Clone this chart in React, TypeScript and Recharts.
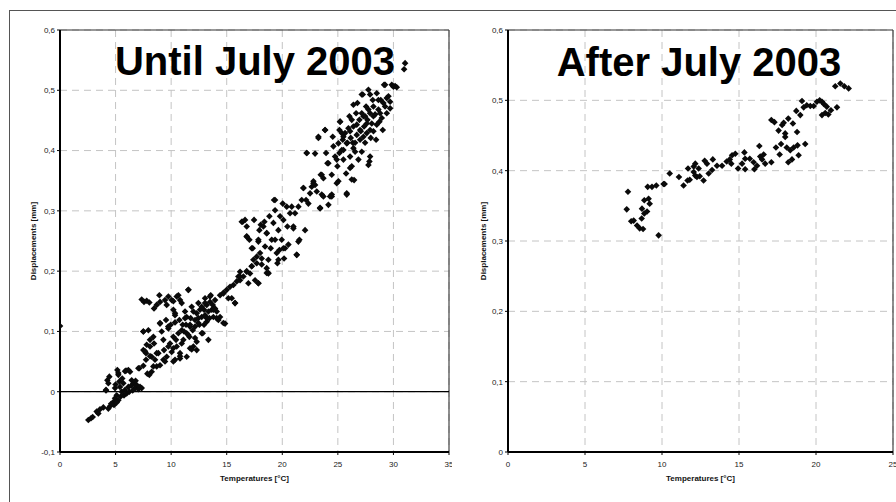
import React from 'react';
import { ScatterChart, Scatter, XAxis, YAxis, CartesianGrid, ReferenceLine } from 'recharts';

// ---- tick labels ----
const untilXTicks = [0, 5, 10, 15, 20, 25, 30, 35];
const untilYTicks = [-0.1, 0, 0.1, 0.2, 0.3, 0.4, 0.5, 0.6];
const afterXTicks = [0, 5, 10, 15, 20, 25];
const afterYTicks = [0, 0.1, 0.2, 0.3, 0.4, 0.5, 0.6];

// ---- Until July 2003: [temperature °C, displacement mm] ----
const untilLow: [number, number][] = [
  [0, 0.109],
  [2.55, -0.047], [2.79, -0.044], [2.94, -0.042], [3.3, -0.033], [3.45, -0.036], [3.6, -0.029],
  [3.9, -0.026], [4.35, -0.028], [4.5, -0.024], [4.14, 0.002], [4.26, 0.019], [4.44, 0.025],
  [4.35, 0.014], [4.8, -0.017], [4.95, -0.011], [5.1, -0.006], [5.16, 0.036], [5.25, 0.028],
  [4.95, 0.006], [5.4, 0.008], [5.55, 0], [5.34, 0.017], [5.7, 0.014], [5.85, 0.003],
  [5.46, -0.008], [5.76, -0.006], [6.0, -0.003], [5.94, 0.035], [6.3, 0.033], [6.45, 0.019],
  [6.15, 0.008], [6.6, 0.014], [6.75, 0.006], [6.9, 0.011], [7.05, 0.004], [7.2, 0.008],
  [7.35, 0.006], [6.54, 0.002], [6.24, 0.0], [5.25, -0.014], [4.86, -0.022],
  [5.25, 0.031], [5.85, 0.034], [6.15, 0.036], [4.14, 0.003], [5.0, 0.012], [5.6, 0.022],
  [6.4, 0.01], [6.8, 0.018], [5.1, -0.018], [4.6, -0.02],
];

const untilMid: [number, number][] = [
  [7.14, 0.039], [7.5, 0.043], [7.74, 0.053], [7.35, 0.153], [7.56, 0.149], [7.8, 0.151],
  [8.04, 0.148], [7.5, 0.1], [7.95, 0.102], [7.5, 0.069], [7.74, 0.064], [8.1, 0.075],
  [8.25, 0.058], [8.04, 0.028], [8.1, 0.086], [8.4, 0.091], [8.46, 0.138], [8.7, 0.144],
  [8.94, 0.16], [9.0, 0.149], [8.55, 0.053], [8.85, 0.064], [8.7, 0.042], [9.0, 0.113],
  [9.15, 0.1], [9.3, 0.086], [9.36, 0.069], [9.45, 0.152], [9.6, 0.144], [9.75, 0.158],
  [9.6, 0.058], [9.54, 0.119], [9.75, 0.105], [9.9, 0.08], [10.05, 0.066], [10.2, 0.091],
  [10.05, 0.152], [10.2, 0.136], [10.35, 0.115], [10.35, 0.127], [10.5, 0.075], [10.65, 0.097],
  [10.65, 0.16], [10.8, 0.152], [10.8, 0.064], [10.95, 0.102], [11.04, 0.111], [11.1, 0.086],
  [11.25, 0.133], [11.4, 0.097], [11.4, 0.058], [11.55, 0.169], [11.64, 0.091], [11.76, 0.122],
  [11.85, 0.141], [11.94, 0.102], [12.0, 0.075], [12.15, 0.119], [12.3, 0.083], [12.3, 0.13],
  [12.45, 0.147], [12.54, 0.111], [12.75, 0.124], [12.84, 0.097], [12.96, 0.136], [13.05, 0.155],
  [13.2, 0.116], [13.35, 0.133], [13.5, 0.149], [13.56, 0.16], [13.74, 0.144], [13.8, 0.124],
  [13.95, 0.152], [14.1, 0.133], [14.25, 0.119], [14.4, 0.124], [14.85, 0.113], [14.4, 0.16],
  [14.7, 0.163], [15.0, 0.169], [15.15, 0.155], [15.3, 0.174], [15.6, 0.177], [15.75, 0.147],
  [15.9, 0.183],
  [9.75, 0.075], [9.96, 0.111], [10.44, 0.086], [10.74, 0.119], [11.16, 0.1], [11.34, 0.111],
  [11.55, 0.094], [11.7, 0.111], [12.0, 0.133], [12.15, 0.108], [12.45, 0.122], [12.6, 0.136],
  [12.75, 0.141], [13.05, 0.127], [13.2, 0.144], [13.44, 0.122], [13.65, 0.136], [13.95, 0.138],
  [12.96, 0.111], [13.35, 0.086], [12.3, 0.069], [11.7, 0.072], [10.8, 0.055], [10.35, 0.053],
  [9.3, 0.053], [9.0, 0.044], [8.7, 0.064], [8.46, 0.08], [8.25, 0.033], [7.86, 0.03],
  [11.4, 0.124], [10.95, 0.08], [10.2, 0.072],
  [7.5, 0.1], [7.8, 0.078], [7.65, 0.067], [7.05, 0.039], [8.4, 0.042], [9.45, 0.05],
  [10.2, 0.05], [9.0, 0.114], [9.74, 0.108], [8.1, 0.059],
  [11.55, 0.169], [10.5, 0.158], [10.95, 0.147], [10.2, 0.15], [10.35, 0.13], [14.7, 0.114],
  [12.75, 0.097], [12.15, 0.089], [11.85, 0.07], [10.8, 0.059], [15.75, 0.147], [15.45, 0.155],
  [14.7, 0.164], [13.05, 0.147], [13.5, 0.158], [13.8, 0.136], [14.1, 0.122], [11.25, 0.122],
  [11.7, 0.108], [12.45, 0.114], [13.2, 0.122],
];

const untilUpperMid: [number, number][] = [
  [16.05, 0.191], [16.2, 0.199], [16.44, 0.282], [16.65, 0.285], [16.8, 0.257], [16.8, 0.274],
  [16.95, 0.18], [17.1, 0.196], [17.04, 0.252], [17.34, 0.238], [17.46, 0.285], [17.7, 0.224],
  [17.55, 0.185], [17.85, 0.18], [17.85, 0.252], [17.94, 0.268], [18.06, 0.277], [18.15, 0.221],
  [18.3, 0.274], [18.39, 0.282], [18.6, 0.263], [18.6, 0.205], [18.75, 0.196], [18.84, 0.291],
  [18.96, 0.238], [19.05, 0.252], [19.2, 0.28], [19.26, 0.318], [19.35, 0.301], [19.5, 0.23],
  [19.56, 0.213], [19.65, 0.268], [19.74, 0.235], [19.8, 0.291], [19.95, 0.252], [20.04, 0.312],
  [20.1, 0.285], [20.16, 0.221], [20.25, 0.238], [20.4, 0.307], [20.46, 0.274], [20.55, 0.244],
  [20.7, 0.296], [20.85, 0.307], [21.0, 0.274], [21.15, 0.296], [21.3, 0.227], [21.45, 0.307],
  [21.54, 0.252], [21.75, 0.318], [21.9, 0.338], [22.05, 0.268], [22.14, 0.318], [22.2, 0.396],
  [22.35, 0.312], [22.5, 0.329], [22.65, 0.34], [22.8, 0.349], [22.95, 0.395], [23.1, 0.332],
  [23.25, 0.423], [23.4, 0.304], [23.46, 0.36], [23.55, 0.327], [23.7, 0.354], [23.85, 0.434],
  [23.94, 0.396], [24.06, 0.379], [24.15, 0.31], [24.3, 0.324], [24.45, 0.36], [24.54, 0.423],
  [24.6, 0.407], [24.75, 0.39],
  [16.2, 0.185], [16.5, 0.191], [16.8, 0.199], [17.25, 0.208], [17.4, 0.219], [17.7, 0.213],
  [18.0, 0.23], [18.45, 0.241],
  [16.2, 0.191], [16.8, 0.2], [17.85, 0.18], [18.6, 0.197], [18.15, 0.211], [17.25, 0.208],
  [19.35, 0.318], [21.9, 0.338], [23.55, 0.36], [22.95, 0.343], [24.45, 0.327], [23.4, 0.305],
  [16.35, 0.282], [16.8, 0.258], [17.85, 0.249], [17.25, 0.238], [21.3, 0.227], [21.45, 0.249],
  [21.0, 0.271], [18.6, 0.263], [19.35, 0.252], [20.1, 0.238], [18.75, 0.219], [19.65, 0.219],
  [18.75, 0.197],
];

const untilHigh: [number, number][] = [
  [24.9, 0.346], [24.96, 0.374], [25.05, 0.412], [25.14, 0.434], [25.2, 0.448], [25.35, 0.401],
  [25.44, 0.418], [25.5, 0.385], [25.65, 0.429], [25.74, 0.362], [25.8, 0.329], [25.86, 0.413],
  [25.95, 0.437], [26.04, 0.457], [26.1, 0.39], [26.16, 0.421], [26.25, 0.374], [26.34, 0.413],
  [26.4, 0.44], [26.46, 0.351], [26.55, 0.398], [26.64, 0.462], [26.7, 0.426], [26.76, 0.479],
  [26.85, 0.385], [26.94, 0.451], [27.0, 0.418], [27.06, 0.432], [27.15, 0.398], [27.24, 0.493],
  [27.3, 0.457], [27.36, 0.44], [27.45, 0.413], [27.54, 0.473], [27.6, 0.429], [27.66, 0.451],
  [27.75, 0.501], [27.84, 0.382], [27.9, 0.462], [27.96, 0.421], [28.05, 0.445], [28.14, 0.484],
  [28.2, 0.432], [28.35, 0.46], [28.44, 0.418], [28.5, 0.495], [28.65, 0.468], [28.74, 0.448],
  [28.86, 0.484], [28.95, 0.454], [29.04, 0.434], [29.16, 0.509], [29.25, 0.473], [29.4, 0.462],
  [29.55, 0.49], [29.7, 0.47], [29.85, 0.509], [30.0, 0.506], [30.15, 0.507], [30.3, 0.505],
  [31.05, 0.545], [30.96, 0.535],
  [25.5, 0.423], [25.8, 0.412], [26.1, 0.432], [26.4, 0.404], [26.7, 0.443], [27.0, 0.434],
  [27.3, 0.423], [27.6, 0.445], [27.9, 0.434], [28.2, 0.457], [28.5, 0.443], [28.8, 0.462],
  [29.1, 0.479], [29.4, 0.487], [29.7, 0.481], [26.25, 0.451], [26.55, 0.413], [27.15, 0.462],
  [27.45, 0.457], [27.75, 0.468], [28.2, 0.473], [28.65, 0.484], [25.14, 0.396], [25.35, 0.429],
  [29.25, 0.509], [27.15, 0.493], [26.4, 0.476], [27.9, 0.493], [23.85, 0.434], [23.25, 0.421],
  [22.2, 0.396], [25.2, 0.448], [25.5, 0.401], [24.9, 0.385], [24.15, 0.379], [26.1, 0.371],
  [26.25, 0.352], [25.05, 0.349], [27.75, 0.376], [27.9, 0.39], [22.8, 0.346], [25.8, 0.327],
  [24.45, 0.324], [23.7, 0.324],
];

// ---- After July 2003 ----
const afterLow: [number, number][] = [
  [7.79, 0.37], [7.71, 0.345], [8.0, 0.328], [8.16, 0.329], [8.38, 0.322], [8.55, 0.318],
  [8.77, 0.317], [8.68, 0.332], [8.7, 0.346], [8.85, 0.358], [8.85, 0.339], [9.03, 0.342],
  [9.13, 0.36], [9.2, 0.353], [9.07, 0.377], [9.35, 0.377], [9.63, 0.379], [9.78, 0.308],
  [10.1, 0.381], [10.17, 0.381], [10.5, 0.396], [11.1, 0.391], [11.4, 0.379], [11.66, 0.386],
  [11.8, 0.387], [11.69, 0.403], [12.06, 0.406], [12.06, 0.398], [12.16, 0.393], [12.27, 0.391],
  [12.45, 0.392], [12.16, 0.41], [12.38, 0.403], [12.7, 0.386], [12.77, 0.414], [12.92, 0.41],
  [13.03, 0.396], [13.25, 0.401], [13.3, 0.416], [13.57, 0.407], [13.9, 0.407],
];

const afterHigh: [number, number][] = [
  [14.2, 0.413], [14.4, 0.416], [14.55, 0.422], [14.76, 0.424], [14.5, 0.41], [14.94, 0.403],
  [15.2, 0.41], [15.35, 0.426], [15.4, 0.417], [15.4, 0.402], [15.7, 0.417], [15.95, 0.412],
  [16.0, 0.402], [16.17, 0.407], [16.32, 0.435], [16.38, 0.42], [16.5, 0.416], [16.6, 0.423],
  [16.7, 0.41], [17.1, 0.412], [17.1, 0.472], [17.3, 0.469], [17.4, 0.433], [17.57, 0.457],
  [17.64, 0.423], [17.73, 0.438], [17.8, 0.465], [17.9, 0.468], [18.0, 0.453], [18.0, 0.448],
  [18.1, 0.433], [18.2, 0.412], [18.2, 0.474], [18.33, 0.429], [18.44, 0.416], [18.5, 0.467],
  [18.55, 0.433], [18.72, 0.485], [18.77, 0.455], [18.8, 0.436], [18.87, 0.422], [18.98, 0.479],
  [19.09, 0.499], [19.2, 0.49], [19.3, 0.438], [19.4, 0.493], [19.63, 0.492], [19.85, 0.492],
  [20.06, 0.498], [20.24, 0.5], [20.39, 0.498], [20.5, 0.495], [20.39, 0.479], [20.6, 0.482],
  [20.7, 0.491], [20.8, 0.48], [20.97, 0.486], [21.25, 0.52], [21.36, 0.49], [21.58, 0.524],
  [21.84, 0.52], [22.12, 0.517],
];

const toPoints = (arr: [number, number][]) => arr.map(([t, d]) => ({ t, d }));
const untilData = toPoints([...untilLow, ...untilMid, ...untilUpperMid, ...untilHigh]);
const afterData = toPoints([...afterLow, ...afterHigh]);

const FONT = '"Liberation Sans", Arial, Helvetica, sans-serif';

const Diamond = (props: any) => {
  const { cx, cy } = props;
  if (cx == null || cy == null) return null;
  const r = 3.3;
  return (
    <polygon
      points={`${cx},${cy - r} ${cx + r},${cy} ${cx},${cy + r} ${cx - r},${cy}`}
      fill="#0a0a0a"
    />
  );
};

const fmtY = (v: number) => (Math.abs(v) < 1e-9 ? '0' : v.toFixed(1).replace('.', ','));

const tickStyle = { fontSize: 8, fill: '#222', fontFamily: FONT };

function Panel(props: {
  left: number;
  width: number;
  data: { t: number; d: number }[];
  xTicks: number[];
  yTicks: number[];
  xMax: number;
  yMin: number;
  zeroLine: boolean;
  marginRight: number;
}) {
  const { left, width, data, xTicks, yTicks, xMax, yMin, zeroLine, marginRight } = props;
  return (
    <div style={{ position: 'absolute', left, top: 0 }}>
      <ScatterChart
        width={width}
        height={502}
        margin={{ top: 30, right: marginRight, bottom: 20, left: 20 }}
      >
        <CartesianGrid stroke="#c4c4c4" strokeDasharray="7 5" />
        <XAxis
          type="number"
          dataKey="t"
          domain={[0, xMax]}
          ticks={xTicks}
          interval={0}
          height={30}
          tickSize={3}
          tickMargin={6}
          tick={tickStyle}
          axisLine={{ stroke: '#000', strokeWidth: 2 }}
          tickLine={{ stroke: '#000' }}
          allowDataOverflow
        />
        <YAxis
          type="number"
          dataKey="d"
          domain={[yMin, 0.6]}
          ticks={yTicks}
          interval={0}
          width={40}
          tickSize={3}
          tickMargin={2}
          tickFormatter={fmtY}
          tick={tickStyle}
          axisLine={{ stroke: '#000', strokeWidth: 2 }}
          tickLine={{ stroke: '#000' }}
          allowDataOverflow
        />
        <ReferenceLine y={0.6} stroke="#333" strokeWidth={1.2} />
        <ReferenceLine x={xMax} stroke="#444" strokeWidth={1.2} />
        {zeroLine && <ReferenceLine y={0} stroke="#000" strokeWidth={1.3} />}
        <Scatter data={data} shape={Diamond} isAnimationActive={false} />
      </ScatterChart>
    </div>
  );
}

export default function App() {
  return (
    <div
      style={{
        position: 'absolute',
        left: 0,
        top: 0,
        width: 896,
        height: 502,
        background: '#fff',
        overflow: 'hidden',
        fontFamily: FONT,
      }}
    >
      <div
        style={{
          position: 'absolute',
          left: 9,
          top: 10,
          width: 900,
          height: 500,
          borderTop: '1px solid #555',
          borderLeft: '1px solid #555',
        }}
      />
      <Panel
        left={0}
        width={452}
        data={untilData}
        xTicks={untilXTicks}
        yTicks={untilYTicks}
        xMax={35}
        yMin={-0.1}
        zeroLine
        marginRight={3}
      />
      <Panel
        left={448}
        width={448}
        data={afterData}
        xTicks={afterXTicks}
        yTicks={afterYTicks}
        xMax={25}
        yMin={0}
        zeroLine={false}
        marginRight={3}
      />
      <svg
        width={896}
        height={502}
        style={{ position: 'absolute', left: 0, top: 0, pointerEvents: 'none' }}
      >
        <text x={255} y={75} textAnchor="middle" fontSize={40} fontWeight="bold" fontFamily={FONT} fill="#000">
          Until July 2003
        </text>
        <text x={699} y={76} textAnchor="middle" fontSize={40} fontWeight="bold" fontFamily={FONT} fill="#000">
          After July 2003
        </text>
        <text x={254.5} y={481} textAnchor="middle" fontSize={8} fontWeight="bold" fontFamily={FONT} fill="#111">
          Temperatures [°C]
        </text>
        <text x={700.5} y={481} textAnchor="middle" fontSize={8} fontWeight="bold" fontFamily={FONT} fill="#111">
          Temperatures [°C]
        </text>
        <text
          x={36}
          y={241}
          textAnchor="middle"
          fontSize={8}
          fontWeight="bold"
          fontFamily={FONT}
          fill="#111"
          transform="rotate(-90 36 241)"
        >
          Displacements [mm]
        </text>
        <text
          x={486}
          y={241}
          textAnchor="middle"
          fontSize={8}
          fontWeight="bold"
          fontFamily={FONT}
          fill="#111"
          transform="rotate(-90 486 241)"
        >
          Displacements [mm]
        </text>
      </svg>
    </div>
  );
}
